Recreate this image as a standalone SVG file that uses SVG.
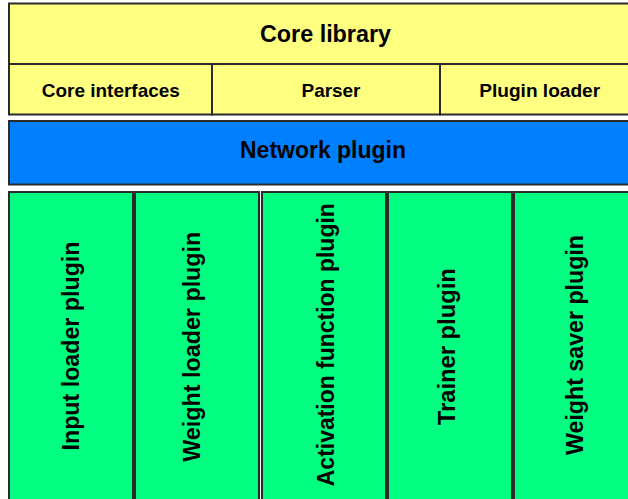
<svg xmlns="http://www.w3.org/2000/svg" width="628" height="499" viewBox="0 0 628 499">
  <style>
    .box { stroke: #2b2b2b; stroke-width: 2; }
    .core { fill: #FFFF80; }
    .net { fill: #0080FF; }
    .plug { fill: #00FF80; }
    text { font-family: "Liberation Sans", Arial, sans-serif; font-weight: bold; fill: #000; text-anchor: middle; }
    .big { font-size: 23px; }
    .small { font-size: 19px; }
  </style>
  <rect width="628" height="499" fill="#ffffff"/>

  <!-- core library -->
  <g id="core-library">
    <rect class="box core" x="9" y="3.5" width="640" height="60.5"/>
    <text class="big" x="325.5" y="42" textLength="131" lengthAdjust="spacingAndGlyphs">Core library</text>
  </g>
  <g id="core-interfaces">
    <rect class="box core" x="9" y="64" width="203" height="50.5"/>
    <text class="small" x="110.8" y="96.5" textLength="138" lengthAdjust="spacingAndGlyphs">Core interfaces</text>
  </g>
  <g id="parser">
    <rect class="box core" x="212" y="64" width="228" height="50.5"/>
    <text class="small" x="331" y="96.5" textLength="59" lengthAdjust="spacingAndGlyphs">Parser</text>
  </g>
  <g id="plugin-loader">
    <rect class="box core" x="440" y="64" width="209" height="50.5"/>
    <text class="small" x="539.7" y="96.5" textLength="121" lengthAdjust="spacingAndGlyphs">Plugin loader</text>
  </g>

  <!-- network layer -->
  <g id="network-plugin">
    <rect class="box net" x="9" y="121" width="640" height="63.5"/>
    <text class="big" x="323" y="158" textLength="166" lengthAdjust="spacingAndGlyphs">Network plugin</text>
  </g>

  <!-- plugin columns -->
  <g id="input-loader-plugin">
    <rect class="box plug" x="9" y="192" width="124" height="320"/>
    <text class="big" transform="translate(78.5,346) rotate(-90)" textLength="209" lengthAdjust="spacingAndGlyphs">Input loader plugin</text>
  </g>
  <g id="weight-loader-plugin">
    <rect class="box plug" x="135" y="192" width="124" height="320"/>
    <text class="big" transform="translate(200,346.7) rotate(-90)" textLength="230" lengthAdjust="spacingAndGlyphs">Weight loader plugin</text>
  </g>
  <g id="activation-function-plugin">
    <rect class="box plug" x="262" y="192" width="124" height="320"/>
    <text class="big" transform="translate(333.5,344.7) rotate(-90)" textLength="283" lengthAdjust="spacingAndGlyphs">Activation function plugin</text>
  </g>
  <g id="trainer-plugin">
    <rect class="box plug" x="388" y="192" width="124" height="320"/>
    <text class="big" transform="translate(455,346.7) rotate(-90)" textLength="157" lengthAdjust="spacingAndGlyphs">Trainer plugin</text>
  </g>
  <g id="weight-saver-plugin">
    <rect class="box plug" x="514" y="192" width="135" height="320"/>
    <text class="big" transform="translate(582.5,345) rotate(-90)" textLength="220" lengthAdjust="spacingAndGlyphs">Weight saver plugin</text>
  </g>

  <!-- layers are stacked blocks; no connectors -->
  <g id="connectors"/>
</svg>
